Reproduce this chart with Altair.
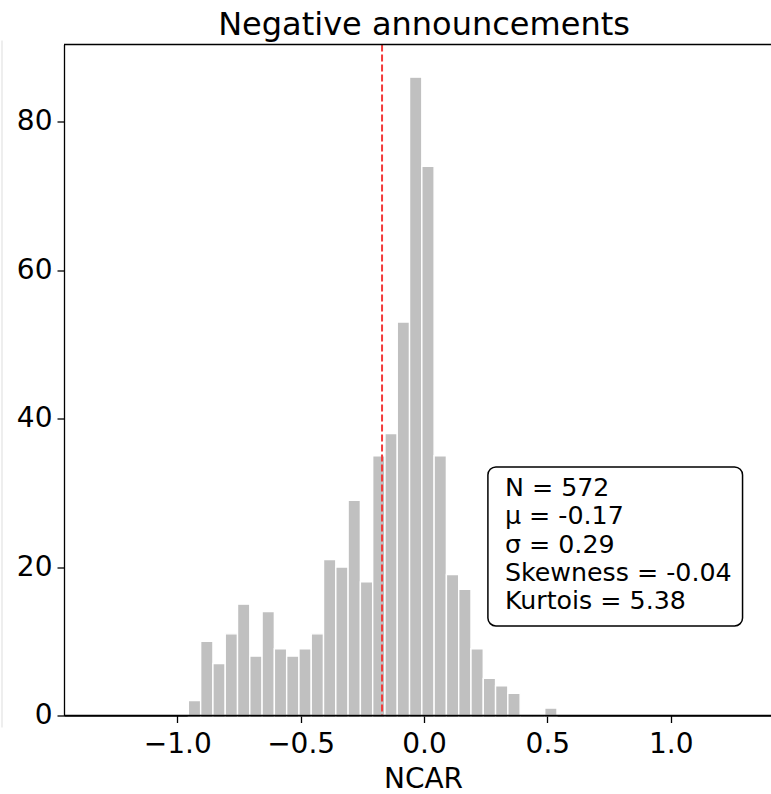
import altair as alt
import pandas as pd

# ---------------- data ----------------
bin_edges = [-0.955, -0.9052, -0.8554, -0.8056, -0.7558, -0.706, -0.6562, -0.6064,
             -0.5566, -0.5068, -0.457, -0.4072, -0.3574, -0.3076, -0.2578, -0.208,
             -0.1582, -0.1084, -0.0586, -0.0088, 0.041, 0.0908, 0.1406, 0.1904,
             0.2402, 0.290, 0.3398, 0.3896, 0.4394, 0.4892, 0.539]
counts = [2, 10, 7, 11, 15, 8, 14, 9, 8, 9, 11, 21, 20, 29, 18, 35, 38, 53, 86, 74,
          35, 19, 17, 9, 5, 4, 3, 0, 0, 1]
mean_value = [-0.17]
stats_lines = ["N = 572", "μ = -0.17", "σ = 0.29", "Skewness = -0.04", "Kurtois = 5.38"]
x_ticks = [-1.0, -0.5, 0.0, 0.5, 1.0]
y_ticks = [0, 20, 40, 60, 80]
title_text = "Negative announcements"
x_title = "NCAR"

FONT = "DejaVu Sans"
# plot area runs past the right edge of the page, as in the (cropped) reference
W, H = 720, 671
x_scale = alt.Scale(domain=[-1.459, 1.459], nice=False, zero=False)
y_scale = alt.Scale(domain=[0, 90.4], nice=False, zero=False)

x_axis = alt.Axis(values=x_ticks, format=".1f", grid=False, zindex=0,
                  labelFont=FONT, labelFontSize=28, labelColor="black",
                  labelPadding=7.5, labelFlush=False, labelOverlap=False,
                  tickColor="black", tickSize=7, tickWidth=1.3,
                  domainColor="black", domainWidth=1.3,
                  titleFont=FONT, titleFontSize=28,
                  titleFontWeight="normal", titleColor="black",
                  titleX=359, titleY=71.8, titleBaseline="alphabetic")
y_axis = alt.Axis(values=y_ticks, grid=False, zindex=0, orient="left",
                  labelFont=FONT, labelFontSize=28, labelColor="black",
                  labelPadding=5, labelFlush=False, labelOverlap=False,
                  tickColor="black", tickSize=7, tickWidth=1.3,
                  domainColor="black", domainWidth=1.3)

hist = pd.DataFrame({"start": bin_edges[:-1], "end": bin_edges[1:], "count": counts})
one = pd.DataFrame({"k": [0]})

bars = alt.Chart(hist).mark_rect(color="#c0c0c0", stroke="white", strokeWidth=1.4).encode(
    x=alt.X("start:Q", scale=x_scale, axis=x_axis, title=x_title),
    x2="end:Q",
    y=alt.Y("count:Q", scale=y_scale, axis=y_axis, title=None),
    y2=alt.datum(0),
)

mean_line = alt.Chart(pd.DataFrame({"start": mean_value})).mark_rule(
    color="#f23a3a", strokeDash=[7, 3], strokeWidth=2
).encode(x=alt.X("start:Q", scale=x_scale, axis=x_axis, title=x_title))

edge_line = alt.Chart(one).mark_rule(color="#dddddd", strokeWidth=1).encode(
    x=alt.value(-62), y=alt.value(-4), y2=alt.value(683)
)

box = alt.Chart(pd.DataFrame({"start": [0.259], "end": [1.291],
                              "count": [12.06], "count2": [33.48]})).mark_rect(
    fill="white", stroke="black", strokeWidth=1.5, cornerRadius=8
).encode(
    x=alt.X("start:Q", scale=x_scale, axis=x_axis, title=x_title), x2="end:Q",
    y=alt.Y("count:Q", scale=y_scale, axis=y_axis, title=None), y2="count2:Q",
)

stats = alt.Chart(pd.DataFrame({"start": [0.328], "count": [29.57]})).mark_text(
    align="left", baseline="alphabetic", font=FONT, fontSize=25.3,
    lineHeight=28.3, color="black"
).encode(
    x=alt.X("start:Q", scale=x_scale, axis=x_axis, title=x_title),
    y=alt.Y("count:Q", scale=y_scale, axis=y_axis, title=None),
    text=alt.value(stats_lines),
)

top_spine = alt.Chart(one).mark_rule(color="black", strokeWidth=1.3).encode(
    x=alt.value(0), x2=alt.value(W), y=alt.value(0)
)
bottom_spine = alt.Chart(one).mark_rule(color="black", strokeWidth=1.3).encode(
    x=alt.value(0), x2=alt.value(W), y=alt.value(H)
)

title = alt.Chart(one).mark_text(
    text=title_text, align="center", baseline="alphabetic", font=FONT,
    fontSize=32, color="black"
).encode(x=alt.value(360), y=alt.value(-9.5))

chart = alt.layer(edge_line, bars, mean_line, box, stats,
                  top_spine, bottom_spine, title).properties(
    width=W, height=H,
    autosize=alt.AutoSizeParams(type="none"),
    padding={"left": 64, "top": 44.5, "right": -13, "bottom": 78.5},
    background="white",
).configure_view(strokeWidth=0, stroke="white")

chart.save("out.html", embed_options={"renderer": "svg", "actions": False})
